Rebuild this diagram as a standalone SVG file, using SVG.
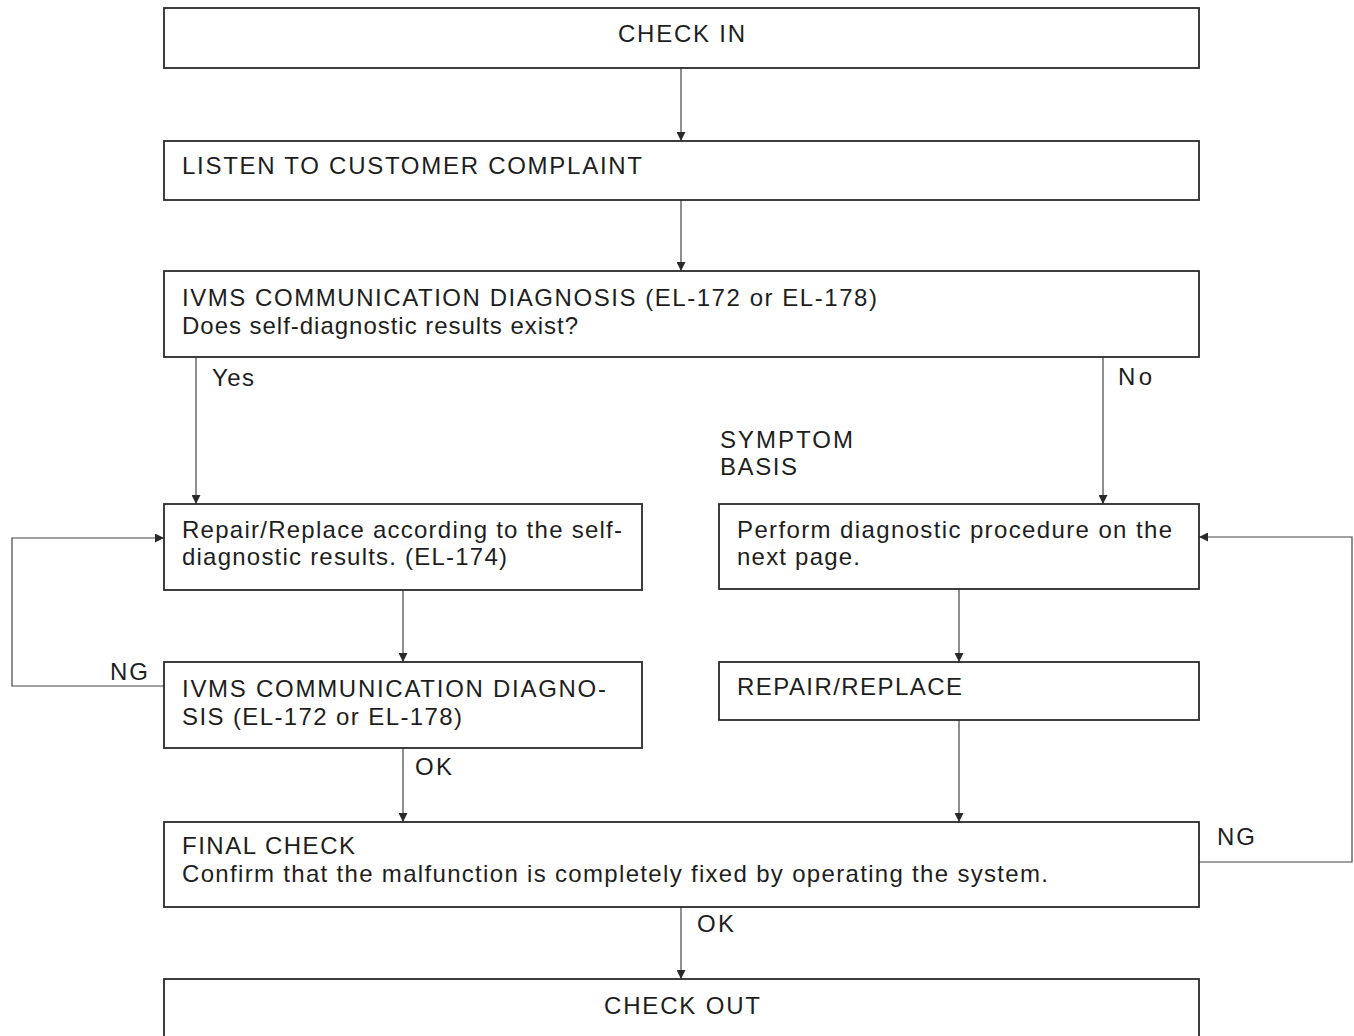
<svg xmlns="http://www.w3.org/2000/svg" width="1354" height="1036" viewBox="0 0 1354 1036">
  <style>
    .box { fill: #fff; stroke: #2a2a2a; stroke-width: 1.8; }
    .t { font-family: "Liberation Sans", Arial, sans-serif; font-size: 24px; fill: #1e1e1e; }
    .c { text-anchor: middle; }
    .wire { fill: none; stroke: #444; stroke-width: 1.2; }
  </style>
  <defs>
    <marker id="arrow" viewBox="0 0 10 10" refX="10" refY="5" markerWidth="11" markerHeight="9" markerUnits="userSpaceOnUse" orient="auto">
      <path d="M0,0 L10,5 L0,10 Z" fill="#2a2a2a"/>
    </marker>
  </defs>
  <rect width="1354" height="1036" fill="#fff"/>

  <!-- connectors and their labels -->
  <g id="connectors">
    <path class="wire" d="M681,68 V141" marker-end="url(#arrow)"/>
    <path class="wire" d="M681,200 V271" marker-end="url(#arrow)"/>
    <path class="wire" d="M196,357 V504" marker-end="url(#arrow)"/>
    <path class="wire" d="M1103,357 V504" marker-end="url(#arrow)"/>
    <path class="wire" d="M403,590 V662" marker-end="url(#arrow)"/>
    <path class="wire" d="M164,686 H12 V538 H164" marker-end="url(#arrow)"/>
    <path class="wire" d="M403,748 V822" marker-end="url(#arrow)"/>
    <path class="wire" d="M959,589 V662" marker-end="url(#arrow)"/>
    <path class="wire" d="M959,720 V822" marker-end="url(#arrow)"/>
    <path class="wire" d="M1199,862 H1352 V537 H1199" marker-end="url(#arrow)"/>
    <path class="wire" d="M681,907 V979" marker-end="url(#arrow)"/>
    <text class="t" x="212" y="386" textLength="42" lengthAdjust="spacing">Yes</text>
    <text class="t" x="1118" y="385" textLength="34" lengthAdjust="spacing">No</text>
    <text class="t" x="110" y="680" textLength="38" lengthAdjust="spacing">NG</text>
    <text class="t" x="415" y="775" textLength="37" lengthAdjust="spacing">OK</text>
    <text class="t" x="1217" y="845" textLength="38" lengthAdjust="spacing">NG</text>
    <text class="t" x="697" y="932" textLength="37" lengthAdjust="spacing">OK</text>
    <text class="t" x="720" y="448" textLength="133" lengthAdjust="spacing">SYMPTOM</text>
    <text class="t" x="720" y="475" textLength="77" lengthAdjust="spacing">BASIS</text>
  </g>

  <g id="check-in">
    <rect class="box" x="164" y="8" width="1035" height="60"/>
    <text class="t" x="618" y="42" textLength="127" lengthAdjust="spacing">CHECK IN</text>
  </g>

  <g id="listen">
    <rect class="box" x="164" y="141" width="1035" height="59"/>
    <text class="t" x="182" y="174" textLength="460" lengthAdjust="spacing">LISTEN TO CUSTOMER COMPLAINT</text>
  </g>

  <g id="ivms-diagnosis">
    <rect class="box" x="164" y="271" width="1035" height="86"/>
    <text class="t" x="182" y="306" textLength="695" lengthAdjust="spacing">IVMS COMMUNICATION DIAGNOSIS (EL-172 or EL-178)</text>
    <text class="t" x="182" y="334" textLength="396" lengthAdjust="spacing">Does self-diagnostic results exist?</text>
  </g>

  <g id="repair-self-diag">
    <rect class="box" x="164" y="504" width="478" height="86"/>
    <text class="t" x="182" y="538" textLength="440" lengthAdjust="spacing">Repair/Replace according to the self-</text>
    <text class="t" x="182" y="565" textLength="325" lengthAdjust="spacing">diagnostic results. (EL-174)</text>
  </g>

  <g id="perform-procedure">
    <rect class="box" x="719" y="504" width="480" height="85"/>
    <text class="t" x="737" y="538" textLength="435" lengthAdjust="spacing">Perform diagnostic procedure on the</text>
    <text class="t" x="737" y="565" textLength="123" lengthAdjust="spacing">next page.</text>
  </g>

  <g id="ivms-recheck">
    <rect class="box" x="164" y="662" width="478" height="86"/>
    <text class="t" x="182" y="697" textLength="424" lengthAdjust="spacing">IVMS COMMUNICATION DIAGNO-</text>
    <text class="t" x="182" y="725" textLength="280" lengthAdjust="spacing">SIS (EL-172 or EL-178)</text>
  </g>

  <g id="repair-replace">
    <rect class="box" x="719" y="662" width="480" height="58"/>
    <text class="t" x="737" y="695" textLength="225" lengthAdjust="spacing">REPAIR/REPLACE</text>
  </g>

  <g id="final-check">
    <rect class="box" x="164" y="822" width="1035" height="85"/>
    <text class="t" x="182" y="854" textLength="173" lengthAdjust="spacing">FINAL CHECK</text>
    <text class="t" x="182" y="882" textLength="866" lengthAdjust="spacing">Confirm that the malfunction is completely fixed by operating the system.</text>
  </g>

  <g id="check-out">
    <rect class="box" x="164" y="979" width="1035" height="70"/>
    <text class="t" x="604" y="1014" textLength="156" lengthAdjust="spacing">CHECK OUT</text>
  </g>
</svg>
